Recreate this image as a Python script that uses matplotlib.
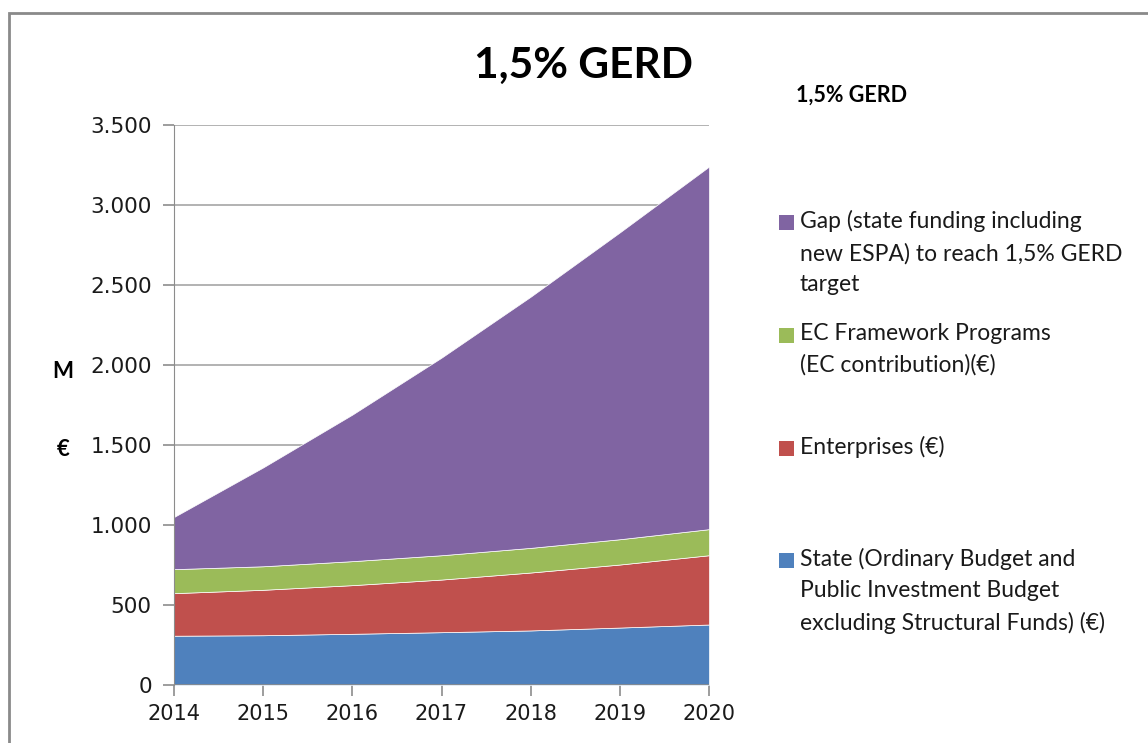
import matplotlib
matplotlib.use("Agg")
import matplotlib.pyplot as plt
from matplotlib.patches import Rectangle

years = [2014, 2015, 2016, 2017, 2018, 2019, 2020]
state = [308, 311, 320, 330, 341, 359, 378]
enterprises = [266, 284, 304, 329, 362, 394, 433]
ec_framework = [150, 147, 150, 152, 154, 158, 163]
gap = [326, 618, 916, 1235, 1570, 1918, 2266]

series_labels = [
    "State (Ordinary Budget and\nPublic Investment Budget\nexcluding Structural Funds) (\u20ac)",
    "Enterprises (\u20ac)",
    "EC Framework Programs\n(EC contribution)(\u20ac)",
    "Gap (state funding including\nnew ESPA) to reach 1,5% GERD\ntarget",
]
colors = ["#4F81BD", "#C0504D", "#9BBB59", "#8064A2"]
yticks = [0, 500, 1000, 1500, 2000, 2500, 3000, 3500]
ytick_labels = ["0", "500", "1.000", "1.500", "2.000", "2.500", "3.000", "3.500"]
title = "1,5% GERD"

W, H = 1148, 743
fig = plt.figure(figsize=(W / 100, H / 100), dpi=100)
fig.patch.set_facecolor("white")

# outer border
fig.add_artist(Rectangle((9 / W, -0.05), 1.2, 1 - 13 / H + 0.05, transform=fig.transFigure,
                         fill=False, edgecolor="#8a8a8a", linewidth=2))

ax = fig.add_axes([174 / W, 1 - 685 / H, (709 - 174) / W, (685 - 125) / H])
ax.stackplot(years, state, enterprises, ec_framework, gap, colors=colors,
             edgecolor="white", linewidth=0.5)
ax.set_xlim(2014, 2020)
ax.set_ylim(0, 3500)
ax.set_yticks(yticks)
ax.set_yticklabels(ytick_labels)
ax.set_xticks(years)
ax.set_xticklabels([str(y) for y in years])
ax.grid(axis="y", color="#a6a6a6", linewidth=1.2)
ax.set_axisbelow(True)
for s in ["top", "right", "bottom"]:
    ax.spines[s].set_visible(False)
ax.spines["left"].set_color("#8c8c8c")
ax.axhline(0, color="#8c8c8c", linewidth=1.2, zorder=5)
ax.tick_params(axis="y", length=8, color="#8c8c8c", width=1.2, labelsize=15.5, pad=8,
               labelcolor="#1a1a1a")
ax.tick_params(axis="x", length=8, color="#8c8c8c", width=1.2, labelsize=15, pad=6,
               labelcolor="#1a1a1a")
for lab in ax.get_xticklabels() + ax.get_yticklabels():
    lab.set_family("DejaVu Sans")

# titles
fig.text(584 / W, 1 - 66 / H, title, ha="center", va="center", fontsize=30.5,
         fontweight="bold", family="Lato")
fig.text(852 / W, 1 - 95 / H, title, ha="center", va="center", fontsize=15.5,
         fontweight="bold", family="Lato")

# y-axis unit labels
fig.text(63 / W, 1 - 372 / H, "M", ha="center", va="center", fontsize=16,
         fontweight="bold", family="Lato")
fig.text(63 / W, 1 - 449 / H, "\u20ac", ha="center", va="center", fontsize=16,
         fontweight="bold", family="Lato")

# legend (manual)
legend_rows_y = [560, 448, 335, 222]  # first-line centers, px from top
for lab, col, yy in zip(series_labels, colors, legend_rows_y):
    fig.add_artist(Rectangle((779 / W, 1 - (yy + 7.5) / H), 15 / W, 15 / H,
                             transform=fig.transFigure, facecolor=col, edgecolor="none"))
    fig.text(800 / W, 1 - (yy - 12) / H, lab, ha="left", va="top", fontsize=16.5,
             family="Lato", color="#1a1a1a", linespacing=1.6)

fig.savefig("out.png", dpi=100)
